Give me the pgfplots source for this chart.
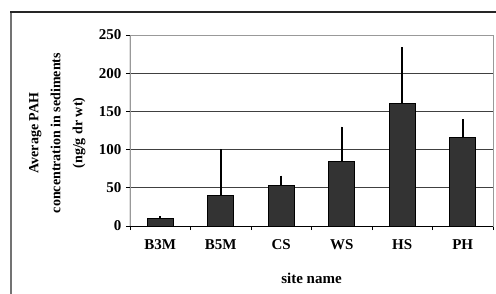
\documentclass[border=0pt]{standalone}
\usepackage{pgfplots}
\pgfplotsset{compat=1.18}
\usepackage{fontspec}
\setmainfont{Liberation Serif}
\begin{document}
\begin{tikzpicture}[x=1pt,y=1pt]
\useasboundingbox (-130,-67) rectangle (366,226);
\fill[white] (-130,-67) rectangle (366,226);
\draw[black!55, line width=1.3pt] (-119,-100) -- (-119,214);
\draw[black!85, line width=1.1pt] (-119.6,214) -- (400,214);
\begin{axis}[at={(0,0)}, anchor=south west, scale only axis,
  width=363pt, height=191pt,
  xmin=0.5, xmax=6.5, ymin=0, ymax=250,
  xtick={0.5,1.5,...,6.5}, x tick label as interval,
  xticklabels={B3M,B5M,CS,WS,HS,PH},
  ytick={0,50,...,250},
  tick pos=left, tick align=outside, major tick length=4pt,
  every tick/.style={black, line width=0.9pt},
  ymajorgrids, grid style={black!75, line width=0.8pt},
  axis line style={black!40, line width=0.8pt},
  /pgf/number format/assume math mode=true,
  tick label style={font=\bfseries\fontsize{15}{17}\selectfont},
  xticklabel style={yshift=-6pt},
  yticklabel style={xshift=-1pt},
  xlabel={site name},
  xlabel style={font=\bfseries\fontsize{15}{17}\selectfont, at={(axis description cs:0.5,-0.275)}, anchor=center},
  ylabel={Average PAH\\concentration in sediments\\(ng/g dr wt)},
  ylabel style={font=\bfseries\fontsize{14}{22}\selectfont, align=center, at={(axis description cs:-0.2,0.487)}, anchor=center},
]
\addplot[ybar, bar width=26pt, fill=black!80, draw=black, line width=0.8pt,
  error bars/.cd, y dir=plus, y explicit, error mark=none,
  error bar style={line width=1.6pt, black}]
  table[x=x, y=y, y error plus=ep] {
x y ep
1 10 3
2 40 61
3 52.7 13.3
4 84 46
5 161 73
6 116 24
};
\draw[black, line width=1pt] (rel axis cs:0,1) -- (rel axis cs:0,0) -- (rel axis cs:1,0);
\end{axis}
\end{tikzpicture}
\end{document}
